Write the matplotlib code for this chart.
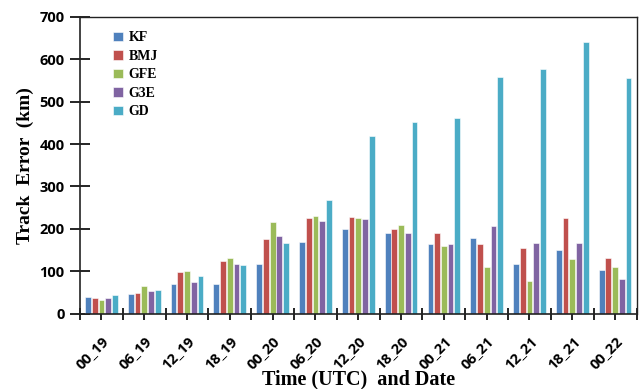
import matplotlib
matplotlib.use("Agg")
import matplotlib.pyplot as plt
import numpy as np

categories = ["00_19", "06_19", "12_19", "18_19", "00_20", "06_20", "12_20",
              "18_20", "00_21", "06_21", "12_21", "18_21", "00_22"]
KF  = [39, 46, 69, 69, 117, 169, 199, 189, 164, 179, 118, 151, 102]
BMJ = [36, 49, 98, 124, 176, 225, 227, 199, 190, 164, 155, 226, 131]
GFE = [33, 65, 101, 130, 215, 231, 225, 208, 160, 109, 77, 128, 109]
G3E = [36, 52, 75, 117, 183, 219, 222, 189, 164, 207, 167, 167, 82]
GD  = [43, 55, 88, 114, 166, 267, 420, 452, 462, 559, 578, 640, 556]
series_names = ["KF", "BMJ", "GFE", "G3E", "GD"]
colors = ["#4F81BD", "#C0504D", "#9BBB59", "#8064A2", "#4BACC6"]
yticks = [0, 100, 200, 300, 400, 500, 600, 700]

fig = plt.figure(figsize=(6.39, 3.89), dpi=100)
ax = fig.add_axes([80/639, 75.5/389, 556.5/639, 296.5/389])

x = np.arange(len(categories))
step = 0.157
width = 0.135
for i, (name, vals, c) in enumerate(zip(series_names, [KF, BMJ, GFE, G3E, GD], colors)):
    ax.bar(x + (i - 2) * step, vals, width=width, color=c, edgecolor="white",
           linewidth=0.4, label=name, zorder=2)

ax.set_xlim(-0.5, len(categories) - 0.5)
ax.set_ylim(0, 700)
ax.set_yticks(yticks)
ax.set_yticklabels([str(v) for v in yticks], fontsize=10.5, fontweight="bold",
                   family="Open Sans")
ax.set_xticks(x)
ax.set_xticks(np.arange(len(categories) + 1) - 0.5, minor=True)
ax.set_xticklabels(categories, rotation=45, ha="right", rotation_mode="anchor",
                   fontsize=10.5, fontweight="bold", family="Open Sans")
ax.tick_params(axis="x", which="both", direction="inout", length=9, width=1.2,
               pad=10)
ax.tick_params(axis="y", which="major", direction="inout", length=14, width=1.2,
               pad=4)
for s in ax.spines.values():
    s.set_linewidth(1.2)
    s.set_color("#222222")
ax.spines["top"].set_linewidth(1.0)
ax.spines["right"].set_linewidth(1.0)

ax.set_ylabel("Track  Error  (km)", family="Liberation Serif", fontweight="bold",
              fontsize=14, labelpad=4)
ax.set_xlabel("Time (UTC)  and Date", family="Liberation Serif", fontweight="bold",
              fontsize=14.5)
ax.xaxis.set_label_coords(0.5, -0.19)

leg = ax.legend(loc="upper left", bbox_to_anchor=(0.06, 0.952), frameon=False,
                prop={"family": "Liberation Serif", "weight": "bold", "size": 10},
                handlelength=0.7, handleheight=0.7, handletextpad=0.4,
                labelspacing=0.4, borderpad=0, borderaxespad=0)

fig.savefig("out.png", dpi=100)
